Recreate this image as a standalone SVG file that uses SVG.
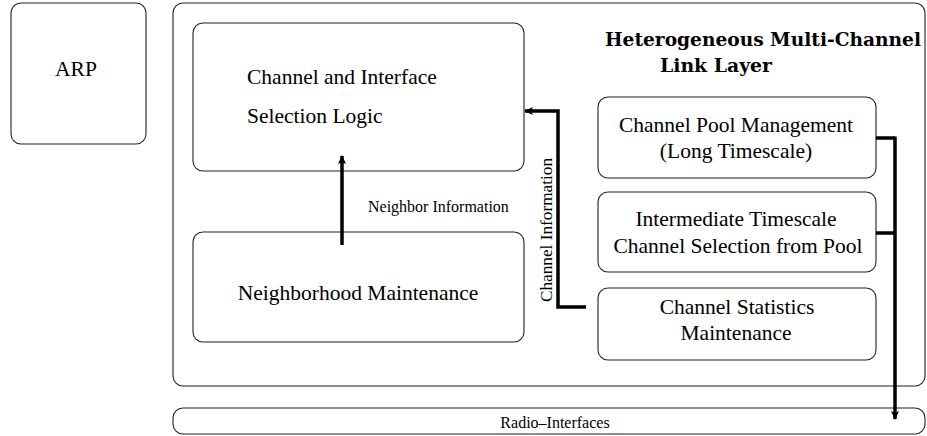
<svg xmlns="http://www.w3.org/2000/svg" width="927" height="436" viewBox="0 0 927 436">
<style>
.box{fill:#fff;stroke:#222;stroke-width:1.1}
.t{font-family:"Liberation Serif","Times New Roman",serif;font-size:21.5px;fill:#000}
.s{font-family:"Liberation Serif","Times New Roman",serif;font-size:16px;fill:#000}
.h{font-family:"DejaVu Serif","Liberation Serif",serif;font-weight:bold;font-size:19px;fill:#000}
.c{fill:none;stroke:#000;stroke-width:3.5}
</style>
<defs>
<marker id="ah" markerWidth="10" markerHeight="10" refX="8" refY="5" orient="auto" markerUnits="userSpaceOnUse">
<path d="M0,1 L9,5 L0,9 L2,5 Z" fill="#000"/>
</marker>
</defs>
<g id="arp"><rect class="box" x="11" y="3" width="135" height="141" rx="10"/><text class="t" x="76" y="76" text-anchor="middle" font-size="18">ARP</text></g>
<g id="link-layer"><rect class="box" x="173" y="3" width="752" height="383" rx="10"/>
<text class="h" x="605" y="46" textLength="316" lengthAdjust="spacingAndGlyphs">Heterogeneous Multi-Channel</text>
<text class="h" x="660" y="72" textLength="112" lengthAdjust="spacingAndGlyphs">Link Layer</text></g>
<g id="selection-logic"><rect class="box" x="193" y="23" width="331" height="148" rx="10"/>
<text class="t" x="247" y="84">Channel and Interface</text>
<text class="t" x="247" y="123">Selection Logic</text></g>
<g id="neighborhood"><rect class="box" x="193" y="232" width="331" height="110" rx="10"/>
<text class="t" x="358" y="300" text-anchor="middle">Neighborhood Maintenance</text></g>
<g id="pool"><rect class="box" x="598" y="97" width="278" height="81" rx="10"/>
<text class="t" x="736" y="132" text-anchor="middle">Channel Pool Management</text>
<text class="t" x="736" y="158" text-anchor="middle">(Long Timescale)</text></g>
<g id="intermediate"><rect class="box" x="598" y="192" width="278" height="80" rx="10"/>
<text class="t" x="736" y="226" text-anchor="middle">Intermediate Timescale</text>
<text class="t" x="738" y="253" text-anchor="middle">Channel Selection from Pool</text></g>
<g id="statistics"><rect class="box" x="598" y="288" width="278" height="72" rx="10"/>
<text class="t" x="737" y="314" text-anchor="middle">Channel Statistics</text>
<text class="t" x="736" y="340" text-anchor="middle">Maintenance</text></g>
<g id="radio"><rect class="box" x="173" y="408" width="752" height="26" rx="10"/>
<text class="s" x="555" y="428" text-anchor="middle" font-size="18">Radio–Interfaces</text></g>
<g id="connectors">
<path class="c" d="M342,245 V156" stroke-width="2.5" marker-end="url(#ah)"/>
<text class="s" x="368" y="212" font-size="15">Neighbor Information</text>
<path class="c" d="M586,307 H558 V111 H525" marker-end="url(#ah)"/>
<text class="s" transform="translate(552,230) rotate(-90)" text-anchor="middle" textLength="144" lengthAdjust="spacingAndGlyphs">Channel Information</text>
<path class="c" d="M876,138 H895 M876,233 H895"/>
<path class="c" d="M895,136.5 V419" marker-end="url(#ah)"/>
</g>
</svg>
